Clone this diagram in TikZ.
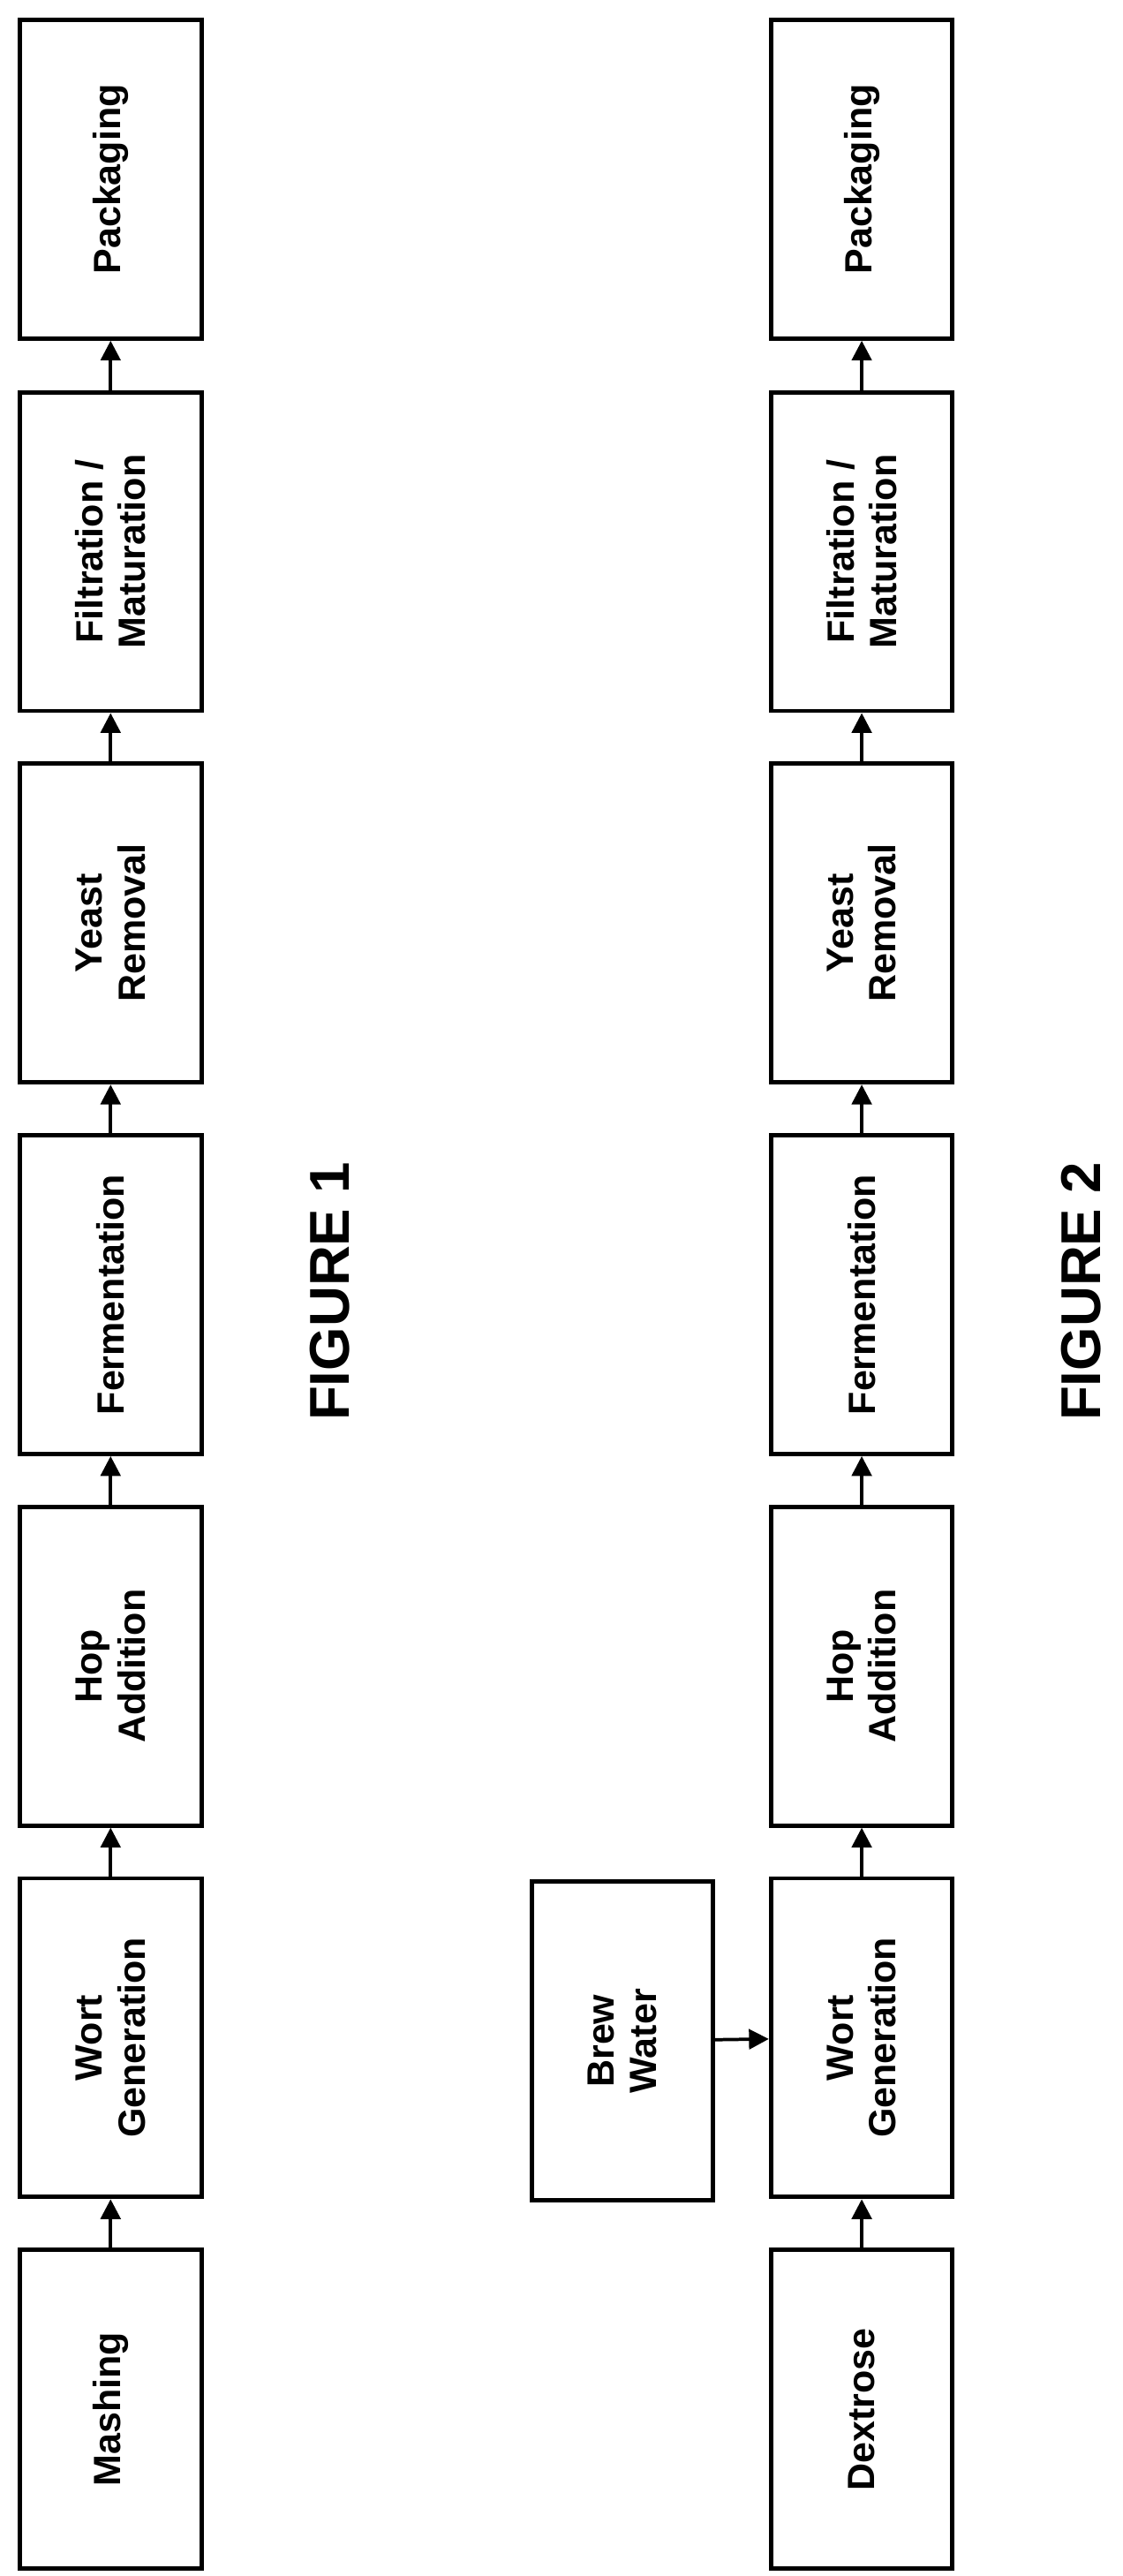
\documentclass[tikz,border=0pt]{standalone}
\usepackage{fontspec}
\setmainfont{Liberation Sans}
\usetikzlibrary{arrows.meta}
\begin{document}
\begin{tikzpicture}[x=0.5pt,y=-0.5pt,
  box/.style={draw,line width=1.3pt,minimum width=96.5pt,minimum height=55pt,rotate=90,align=center,font=\bfseries\fontsize{11.5}{13}\selectfont,inner sep=0pt},
  arr/.style={-{Triangle[length=6pt,width=6pt]},line width=1pt},
  fig/.style={rotate=90,font=\bfseries\fontsize{17}{19}\selectfont}]
\useasboundingbox (0,0) rectangle (680,1560);
% Figure 1
\node[box] (a1) at (67,108.5) {Packaging};
\node[box] (a2) at (67,334) {Filtration /\\Maturation};
\node[box] (a3) at (67,559) {Yeast\\Removal};
\node[box] (a4) at (67,784) {Fermentation};
\node[box] (a5) at (67,1009) {Hop\\Addition};
\node[box] (a6) at (67,1234) {Wort\\Generation};
\node[box] (a7) at (67,1459) {Mashing};
\draw[arr] (a7) -- (a6); \draw[arr] (a6) -- (a5); \draw[arr] (a5) -- (a4);
\draw[arr] (a4) -- (a3); \draw[arr] (a3) -- (a2); \draw[arr] (a2) -- (a1);
\node[fig] (f1) at (200,782) {FIGURE 1};
% Figure 2
\node[box] (b1) at (522,108.5) {Packaging};
\node[box] (b2) at (522,334) {Filtration /\\Maturation};
\node[box] (b3) at (522,559) {Yeast\\Removal};
\node[box] (b4) at (522,784) {Fermentation};
\node[box] (b5) at (522,1009) {Hop\\Addition};
\node[box] (b6) at (522,1234) {Wort\\Generation};
\node[box] (b7) at (522,1459) {Dextrose};
\node[box] (bw) at (377,1236) {Brew\\Water};
\draw[arr] (b7) -- (b6); \draw[arr] (b6) -- (b5); \draw[arr] (b5) -- (b4);
\draw[arr] (b4) -- (b3); \draw[arr] (b3) -- (b2); \draw[arr] (b2) -- (b1);
\draw[arr] (bw) -- (b6);
\node[fig] (f2) at (655,782) {FIGURE 2};
\end{tikzpicture}
\end{document}
